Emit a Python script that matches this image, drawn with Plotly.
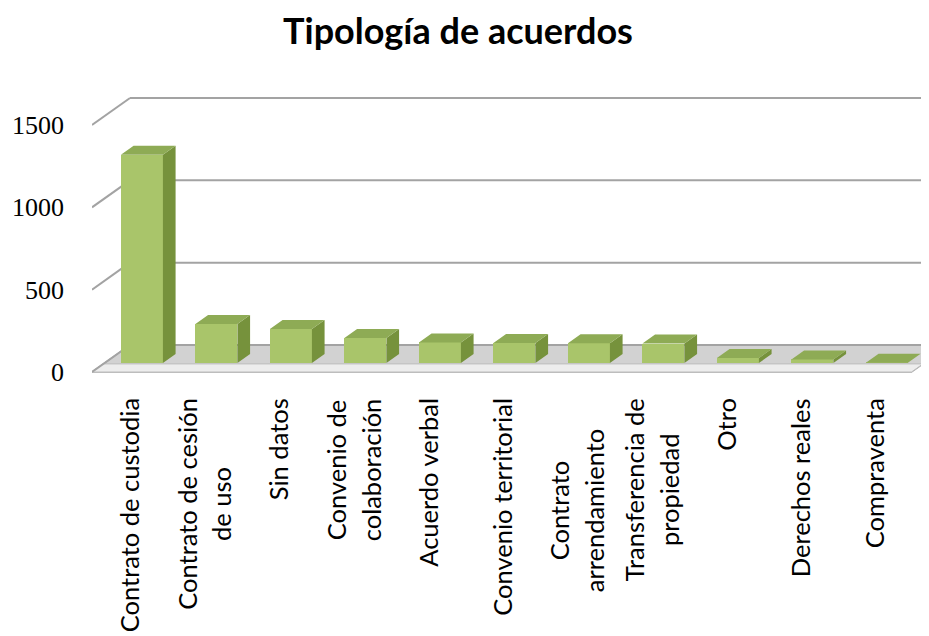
import plotly.graph_objects as go

# ---------------- data ----------------
categories = [
    "Contrato de custodia",
    "Contrato de cesión\nde uso",
    "Sin datos",
    "Convenio de\ncolaboración",
    "Acuerdo verbal",
    "Convenio territorial",
    "Contrato\narrendamiento",
    "Transferencia de\npropiedad",
    "Otro",
    "Derechos reales",
    "Compraventa",
]
values = [1265, 237, 206, 152, 125, 122, 120, 118, 30, 22, 2]
y_ticks = [0, 500, 1000, 1500]
y_tick_labels = ["0", "500", "1000", "1500"]
title_text = "Tipología de acuerdos"

# ---------------- geometry / style ----------------
W, H = 929, 636
OFF = 8                       # page body margin of the browser
plot_l, plot_r, plot_t, plot_b = 92 - OFF, 929, 60 - OFF, 380 - OFF
zero_px = 372 - OFF
px_per_cat = 74.5
px_per_unit = 0.16467
DX = 38 / px_per_cat          # depth offset in x units
DY = 27 / px_per_unit         # depth offset in y units
bar_w = 42 / px_per_cat
fx, fy = DX / 3, DY / 3       # bar front offset / bar depth
label_pixel_shift = [0, 0, 0, 0, 0, 0, -30, 0, 0, 0, 0]   # style: vertical nudge of labels

n = len(values)
xl, xr = -0.5, n - 0.5
x_range = [xl, xl + (plot_r - plot_l) / px_per_cat]
y_range = [-(plot_b - zero_px) / px_per_unit, (zero_px - plot_t) / px_per_unit]

front_col = "#A9C56A"
top_col = "#8EAB55"
side_col = "#76923C"
grid_col = "#A3A3A3"

fig = go.Figure()

# front faces of bars
fig.add_trace(go.Bar(
    x=[i + fx for i in range(n)], y=values, base=fy, width=bar_w,
    marker=dict(color=front_col, line=dict(width=0)),
    hoverinfo="skip", showlegend=False,
))

# top and side faces
tx, ty, sx, sy = [], [], [], []
for i, v in enumerate(values):
    a = i + fx - bar_w / 2
    b = i + fx + bar_w / 2
    top = fy + v
    tx += [a, b, b + fx, a + fx, a, None]
    ty += [top, top, top + fy, top + fy, top, None]
    sx += [b, b + fx, b + fx, b, b, None]
    sy += [fy, 2 * fy, top + fy, top, fy, None]
fig.add_trace(go.Scatter(x=sx, y=sy, mode="lines", fill="toself", fillcolor=side_col,
                         line=dict(width=0), hoverinfo="skip", showlegend=False))
fig.add_trace(go.Scatter(x=tx, y=ty, mode="lines", fill="toself", fillcolor=top_col,
                         line=dict(width=0), hoverinfo="skip", showlegend=False))

shapes = []
# floor
shapes.append(dict(type="path", xref="x", yref="y", layer="below",
                   path=f"M{xl},0 L{xr},0 L{xr+DX},{DY} L{xl+DX},{DY} Z",
                   fillcolor="#D2D2D2", line=dict(color="#A8A8A8", width=1.5)))
shapes.append(dict(type="path", xref="x", yref="y", layer="below",
                   path=f"M{xl},0 L{xr},0 L{xr+DX*0.3},{DY*0.3} L{xl+DX*0.3},{DY*0.3} Z",
                   fillcolor="#EDEDED", line=dict(color="#BDBDBD", width=1)))
# back wall grid + left wall diagonals
for v in y_ticks:
    shapes.append(dict(type="line", xref="x", yref="y", layer="below",
                       x0=xl + DX, y0=v + DY, x1=x_range[1] + 1, y1=v + DY,
                       line=dict(color=grid_col, width=2)))
    shapes.append(dict(type="line", xref="x", yref="y", layer="below",
                       x0=xl, y0=v, x1=xl + DX, y1=v + DY,
                       line=dict(color=grid_col, width=2)))

# category labels
annotations = []
label_font = "Lato"
for i, lab in enumerate(categories):
    lines = lab.split("\n")
    txt = "<br>".join(f'<span style="font-size:25.5px">{ln}</span>' for ln in lines)
    annotations.append(dict(
        x=i, xref="x", y=-(396 - OFF - plot_b) / (plot_b - plot_t), yref="paper",
        yshift=label_pixel_shift[i],
        text=txt, textangle=-90, showarrow=False, align="center",
        xanchor="center", yanchor="top",
        font=dict(family=label_font, size=26.5, color="#000000"),
    ))

fig.update_layout(
    template="none",
    width=W, height=H,
    margin=dict(l=plot_l, r=W - plot_r, t=plot_t, b=H - plot_b, pad=0, autoexpand=False),
    paper_bgcolor="white", plot_bgcolor="rgba(0,0,0,0)",
    title=dict(text=f"<b>{title_text}</b>", x=(458 - OFF) / W, xref="container", xanchor="center",
               y=1 - (31 - OFF) / H, yref="container", yanchor="middle",
               font=dict(family="Lato", size=36, color="#000000")),
    shapes=shapes, annotations=annotations,
    xaxis=dict(range=x_range, showgrid=False, zeroline=False, showline=False,
               showticklabels=False, ticks="", automargin=False),
    yaxis=dict(range=y_range, tickvals=y_ticks, ticktext=y_tick_labels,
               showgrid=False, zeroline=False, showline=False, ticks="",
               ticklabelstandoff=27, automargin=False,
               tickfont=dict(family="Liberation Serif", size=26, color="#000000")),
    bargap=0, showlegend=False,
)

fig.write_html("out.html")
